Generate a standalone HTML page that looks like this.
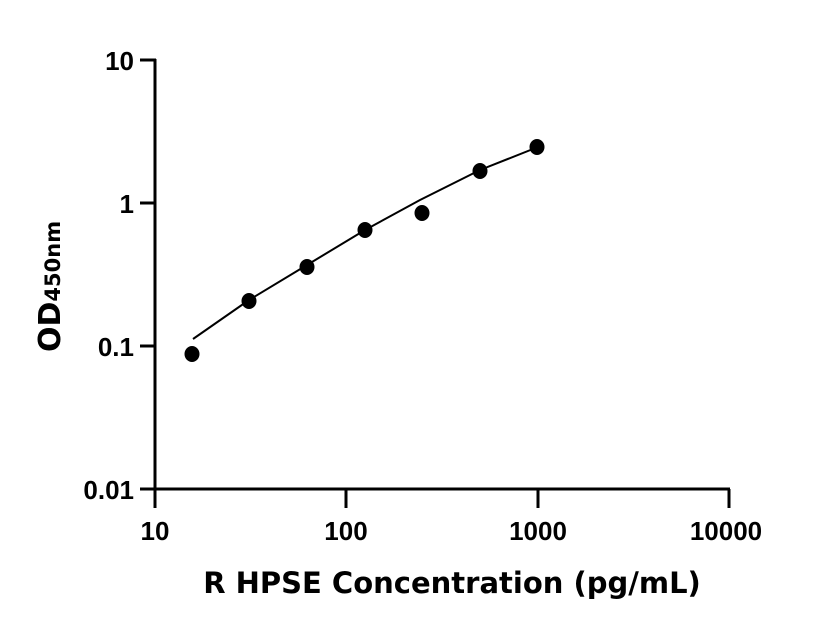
<!DOCTYPE html>
<html><head><style>body{margin:0;background:#fff}svg{display:block}</style></head><body>
<svg width="816" height="640" viewBox="0 0 816 640" xmlns="http://www.w3.org/2000/svg" font-family="'DejaVu Sans','Liberation Sans',sans-serif" font-weight="bold">
<g stroke="#000" stroke-width="3" fill="none">
<path d="M155,59 V490 M140,60 H156 M140,203 H156 M140,346 H156 M140,489 H156"/>
<path d="M154,489 H730 M155,489 V508 M346,489 V508 M538,489 V508 M729,489 V508"/>
</g>
<g font-size="26" text-anchor="end" fill="#000" font-family="'Liberation Sans',sans-serif">
<text x="134" y="70">10</text>
<text x="134" y="213">1</text>
<text x="134" y="356">0.1</text>
<text x="134" y="499">0.01</text>
</g>
<g font-size="26" text-anchor="middle" fill="#000" font-family="'Liberation Sans',sans-serif">
<text x="155" y="540">10</text>
<text x="346" y="540">100</text>
<text x="538" y="540">1000</text>
<text x="726" y="540">10000</text>
</g>
<text x="452" y="593" font-size="29" text-anchor="middle">R HPSE Concentration (pg/mL)</text>
<text transform="translate(60,352) rotate(-90)" font-size="30">OD<tspan font-size="21">450nm</tspan></text>
<polyline fill="none" stroke="#000" stroke-width="2" points="193,339 249,300 307,265 365,230 420,200 480,170 538,147"/>
<g fill="#000">
<ellipse cx="192" cy="354" rx="7.5" ry="8"/>
<ellipse cx="249" cy="301" rx="7.5" ry="8"/>
<ellipse cx="307" cy="267" rx="7.5" ry="8"/>
<ellipse cx="365" cy="230" rx="7.5" ry="8"/>
<ellipse cx="422" cy="213" rx="7.5" ry="8"/>
<ellipse cx="480" cy="171" rx="7.5" ry="8"/>
<ellipse cx="537" cy="147" rx="7.5" ry="8"/>
</g>
</svg>
</body></html>
